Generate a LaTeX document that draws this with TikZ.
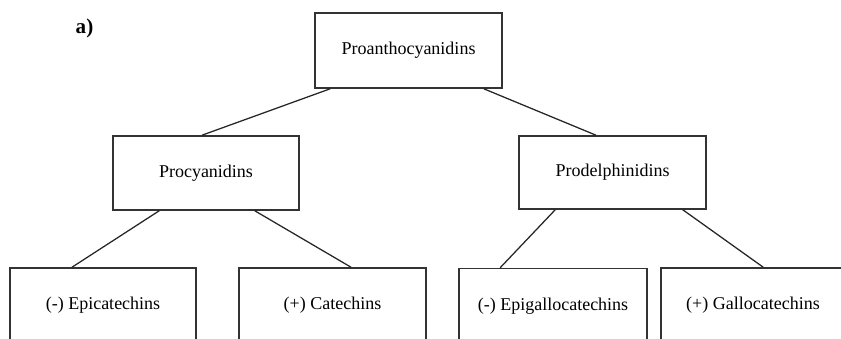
\documentclass[tikz,border=0pt]{standalone}
\usepackage{fontspec}
\setmainfont{Liberation Serif}
\usetikzlibrary{calc}

\begin{document}
\begin{tikzpicture}[x=0.025cm, y=-0.025cm,
		box/.style={draw=black!80, line width=1.1pt, rectangle, minimum width=4.65cm, minimum height=1.875cm, font=\rmfamily\fontsize{12.8}{15}\selectfont},
		link/.style={draw=black!85, line width=0.9pt}]
		\useasboundingbox (0,0) rectangle (841,339);
		\begin{scope}
			\clip (0,0) rectangle (841,339);
			\node[font=\rmfamily\fontsize{15}{18}\selectfont\bfseries] (lbl) at (84.5,28.5) {a)};

			\node[box, minimum width=4.675cm] (pa) at (408.5,50.5) {Proanthocyanidins};

			\node[box, minimum height=1.85cm] (pc) at (206,173) {Procyanidins};
			\node[box, minimum width=4.675cm, minimum height=1.825cm] (pd) at (612.5,172.5) {Prodelphinidins};

			\node[box] (ep) at (103,305.5) {(-) Epicatechins};
			\node[box, minimum width=4.675cm] (ca) at (332.5,305.5) {(+) Catechins};
			\node[box, minimum width=4.7cm] (eg) at (553,306) {(-) Epigallocatechins};
			\node[box, minimum width=4.6cm] (ga) at (753,305.5) {(+) Gallocatechins};

			\draw[link] ($(pa.south west)+(16,0)$) -- ($(pc.north)+(-4,0)$);
			\draw[link] ($(pa.south east)+(-19,0)$) -- ($(pd.north)+(-16.5,0)$);

			\draw[link] ($(pc.south west)+(47,0)$) -- ($(ep.north)+(-31,0)$);
			\draw[link] ($(pc.south east)+(-45,0)$) -- ($(ca.north)+(18.5,0)$);

			\draw[link] ($(pd.south west)+(37,0)$) -- ($(eg.north west)+(42,0)$);
			\draw[link] ($(pd.south east)+(-24,0)$) -- ($(ga.north west)+(103,0)$);
		\end{scope}
		\end{tikzpicture}
\end{document}
